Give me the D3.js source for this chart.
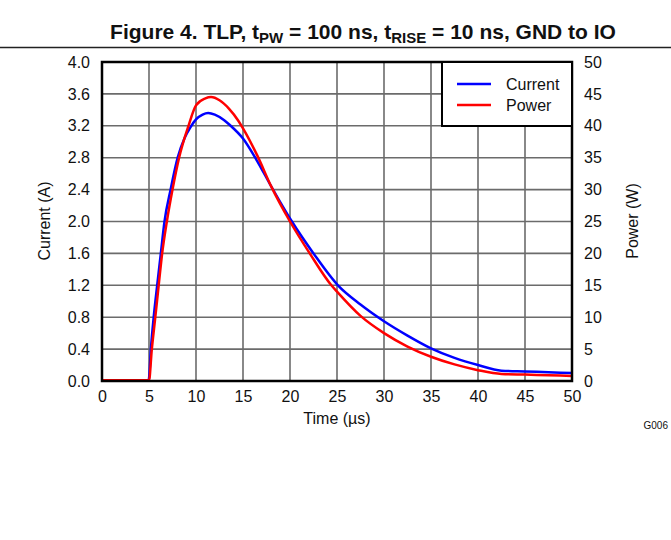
<!DOCTYPE html>
<html>
<head>
<meta charset="utf-8">
<script src="https://cdn.jsdelivr.net/npm/d3@7"></script>
<style>
body { margin: 0; background: #fff; }
svg { font-family: "Liberation Sans", Arial, sans-serif; }
</style>
</head>
<body>
<div id="chart"></div>
<script>
var width = 671;
var height = 540;

// Current (A), blue, left axis
var currentTime = [0, 4.95, 5.0, 5.2, 5.5, 5.87, 6.26, 6.65, 7.3, 8.05, 8.8, 9.4, 10, 10.7, 11.3, 12, 13, 13.6, 15, 16.4, 18.1, 20.2, 22.5, 25.1, 27.5, 30, 32.5, 35, 37.5, 40, 42.5, 45, 47.5, 50];
var currentValues = [0.01, 0.01, 0.03, 0.4, 0.8, 1.2, 1.6, 2.0, 2.4, 2.8, 3.05, 3.18, 3.28, 3.34, 3.36, 3.34, 3.27, 3.21, 3.04, 2.78, 2.42, 2.0, 1.6, 1.2, 0.96, 0.75, 0.57, 0.41, 0.29, 0.2, 0.13, 0.12, 0.11, 0.1];

// Power (W), red, right axis
var powerTime = [0, 5.0, 5.3, 5.67, 6.03, 6.4, 6.9, 7.5, 8.2, 9.2, 10, 11, 11.6, 12.5, 13.5, 14.5, 15, 16.5, 18.0, 20.0, 22.1, 24.4, 25, 27.5, 30, 32.5, 35, 37.5, 40, 42.5, 45, 47.5, 50];
var powerValues = [0.1, 0.1, 5, 10, 15, 20, 25, 30, 35, 40, 43.2, 44.3, 44.5, 44.0, 42.7, 40.8, 39.6, 35.4, 30.5, 25, 20, 15, 14.0, 10.2, 7.5, 5.4, 3.8, 2.6, 1.7, 1.1, 1.0, 0.9, 0.8];

var xTicks = [0, 5, 10, 15, 20, 25, 30, 35, 40, 45, 50];
var leftTicks = [0, 0.4, 0.8, 1.2, 1.6, 2.0, 2.4, 2.8, 3.2, 3.6, 4.0];
var rightTicks = [0, 5, 10, 15, 20, 25, 30, 35, 40, 45, 50];

var plotLeft = 102, plotRight = 572, plotTop = 62, plotBottom = 381;

var svg = d3.select("#chart").append("svg")
  .attr("width", width)
  .attr("height", height);

var x = d3.scaleLinear().domain([0, 50]).range([plotLeft, plotRight]);
var yLeft = d3.scaleLinear().domain([0, 4]).range([plotBottom, plotTop]);
var yRight = d3.scaleLinear().domain([0, 50]).range([plotBottom, plotTop]);

// title
var title = svg.append("text")
  .attr("x", 363)
  .attr("y", 39)
  .attr("text-anchor", "middle")
  .attr("font-weight", "bold")
  .attr("font-size", 21)
  .attr("fill", "#111");
title.append("tspan").text("Figure 4. TLP, t");
title.append("tspan").attr("font-size", 15).attr("dy", 4).text("PW");
title.append("tspan").attr("dy", -4).text(" = 100 ns, t");
title.append("tspan").attr("font-size", 15).attr("dy", 4).text("RISE");
title.append("tspan").attr("dy", -4).text(" = 10 ns, GND to IO");

svg.append("line")
  .attr("x1", 0).attr("x2", width)
  .attr("y1", 47.5).attr("y2", 47.5)
  .attr("stroke", "#222")
  .attr("stroke-width", 1.5);

// grid
var grid = svg.append("g").attr("class", "grid");
grid.selectAll(".vgrid").data(xTicks.slice(1, -1)).enter().append("line")
  .attr("x1", function(d) { return x(d); })
  .attr("x2", function(d) { return x(d); })
  .attr("y1", plotTop).attr("y2", plotBottom)
  .attr("stroke", "#6b6b6b").attr("stroke-width", 1.6);
grid.selectAll(".hgrid").data(leftTicks.slice(1, -1)).enter().append("line")
  .attr("x1", plotLeft).attr("x2", plotRight)
  .attr("y1", function(d) { return yLeft(d); })
  .attr("y2", function(d) { return yLeft(d); })
  .attr("stroke", "#6b6b6b").attr("stroke-width", 1.6);

// axes labels
var xAxis = d3.axisBottom(x).tickValues(xTicks).tickSize(0).tickPadding(10);
var gx = svg.append("g")
  .attr("transform", "translate(0," + plotBottom + ")")
  .call(xAxis);

var leftAxis = d3.axisLeft(yLeft).tickValues(leftTicks).tickFormat(d3.format(".1f")).tickSize(0).tickPadding(12);
var gl = svg.append("g")
  .attr("transform", "translate(" + plotLeft + ",0)")
  .call(leftAxis);

var rightAxis = d3.axisRight(yRight).tickValues(rightTicks).tickSize(0).tickPadding(12);
var gr = svg.append("g")
  .attr("transform", "translate(" + plotRight + ",0)")
  .call(rightAxis);

[gx, gl, gr].forEach(function(g) {
  g.select(".domain").remove();
  g.selectAll("text")
    .attr("font-family", "Liberation Sans, Arial, sans-serif")
    .attr("font-size", 16)
    .attr("fill", "#111");
});

// curves
var lineCurrent = d3.line()
  .x(function(d, i) { return x(currentTime[i]); })
  .y(function(d) { return yLeft(d); })
  .curve(d3.curveMonotoneX);
var linePower = d3.line()
  .x(function(d, i) { return x(powerTime[i]); })
  .y(function(d) { return yRight(d); })
  .curve(d3.curveMonotoneX);

svg.append("path")
  .datum(currentValues)
  .attr("d", lineCurrent)
  .attr("fill", "none")
  .attr("stroke", "#0000ff")
  .attr("stroke-width", 2.5);

svg.append("path")
  .datum(powerValues)
  .attr("d", linePower)
  .attr("fill", "none")
  .attr("stroke", "#ff0000")
  .attr("stroke-width", 2.5);

// frame
svg.append("rect")
  .attr("x", plotLeft).attr("y", plotTop)
  .attr("width", plotRight - plotLeft)
  .attr("height", plotBottom - plotTop)
  .attr("fill", "none")
  .attr("stroke", "#000")
  .attr("stroke-width", 2.5);

// legend
var legend = svg.append("g");
legend.append("rect")
  .attr("x", 442).attr("y", plotTop)
  .attr("width", plotRight - 442).attr("height", 64)
  .attr("fill", "#fff")
  .attr("stroke", "#000")
  .attr("stroke-width", 2);
var legendItems = [["Current", "#0000ff", 84], ["Power", "#ff0000", 105]];
legendItems.forEach(function(item) {
  legend.append("line")
    .attr("x1", 457).attr("x2", 491)
    .attr("y1", item[2]).attr("y2", item[2])
    .attr("stroke", item[1]).attr("stroke-width", 2.5);
  legend.append("text")
    .attr("x", 506).attr("y", item[2] + 6)
    .attr("font-size", 16)
    .attr("fill", "#111")
    .text(item[0]);
});

// axis titles
svg.append("text")
  .attr("x", 337).attr("y", 424)
  .attr("text-anchor", "middle")
  .attr("font-size", 16)
  .attr("fill", "#111")
  .text("Time (µs)");

svg.append("text")
  .attr("transform", "translate(50,221)rotate(-90)")
  .attr("text-anchor", "middle")
  .attr("font-size", 16)
  .attr("fill", "#111")
  .text("Current (A)");

svg.append("text")
  .attr("transform", "translate(638,221)rotate(-90)")
  .attr("text-anchor", "middle")
  .attr("font-size", 16)
  .attr("fill", "#111")
  .text("Power (W)");

svg.append("text")
  .attr("x", 668).attr("y", 429)
  .attr("text-anchor", "end")
  .attr("font-size", 10)
  .attr("fill", "#111")
  .text("G006");
</script>
</body>
</html>
